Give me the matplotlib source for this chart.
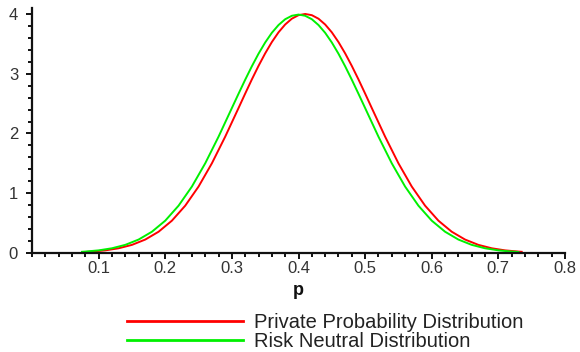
import matplotlib
matplotlib.use("Agg")
import matplotlib.pyplot as plt
from matplotlib.ticker import MultipleLocator

plt.rcParams['font.family'] = ['Liberation Sans', 'DejaVu Sans']

# Private probability distribution (red)
red_p = [0.08, 0.09, 0.11, 0.13, 0.15, 0.17, 0.19, 0.21, 0.23, 0.25, 0.27, 0.29,
         0.31, 0.32, 0.33, 0.34, 0.35, 0.36, 0.37, 0.38, 0.39, 0.40, 0.41, 0.42,
         0.43, 0.44, 0.45, 0.46, 0.47, 0.48, 0.49, 0.50, 0.51, 0.53,
         0.55, 0.57, 0.59, 0.61, 0.63, 0.65, 0.67, 0.69, 0.71, 0.73, 0.735]
red_density = [0.017, 0.024, 0.044, 0.079, 0.136, 0.225, 0.356, 0.541, 0.792, 1.112,
               1.501, 1.947, 2.426, 2.668, 2.905, 3.131, 3.341, 3.530, 3.693, 3.824,
               3.921, 3.980, 4.000, 3.980, 3.921, 3.824, 3.693, 3.530, 3.341, 3.131,
               2.905, 2.668, 2.426, 1.947, 1.501, 1.112, 0.792, 0.541, 0.356, 0.225,
               0.136, 0.079, 0.044, 0.024, 0.020]

# Risk neutral distribution (green)
green_p = [0.075, 0.08, 0.10, 0.12, 0.14, 0.16, 0.18, 0.20, 0.22, 0.24, 0.26, 0.28,
           0.30, 0.31, 0.32, 0.33, 0.34, 0.35, 0.36, 0.37, 0.38, 0.39, 0.40, 0.41,
           0.42, 0.43, 0.44, 0.45, 0.46, 0.47, 0.48, 0.49, 0.50, 0.52,
           0.54, 0.56, 0.58, 0.60, 0.62, 0.64, 0.66, 0.68, 0.70, 0.72, 0.73]
green_density = [0.020, 0.024, 0.044, 0.079, 0.136, 0.225, 0.356, 0.541, 0.792, 1.112,
                 1.501, 1.947, 2.426, 2.665, 2.900, 3.125, 3.335, 3.523, 3.685, 3.815,
                 3.912, 3.970, 3.990, 3.970, 3.912, 3.815, 3.685, 3.523, 3.335, 3.125,
                 2.900, 2.665, 2.426, 1.947, 1.501, 1.112, 0.792, 0.541, 0.356, 0.225,
                 0.136, 0.079, 0.044, 0.024, 0.017]

x_ticks = [0.1, 0.2, 0.3, 0.4, 0.5, 0.6, 0.7, 0.8]
x_labels = ["0.1", "0.2", "0.3", "0.4", "0.5", "0.6", "0.7", "0.8"]
y_ticks = [0, 1, 2, 3, 4]
y_labels = ["0", "1", "2", "3", "4"]
series_labels = ["Private Probability Distribution", "Risk Neutral Distribution"]

fig = plt.figure(figsize=(5.8, 3.52), dpi=100)
ax = fig.add_axes([32/580, 1 - 253/352, (565 - 32)/580, (253 - 8)/352])

l1, = ax.plot(red_p, red_density, color='#ff0000', lw=1.4, label=series_labels[0])
l2, = ax.plot(green_p, green_density, color='#00f000', lw=1.4, label=series_labels[1])

ax.set_xlim(0, 0.8)
ax.set_ylim(0, 4.1)
for s in ['top', 'right']:
    ax.spines[s].set_visible(False)
for s in ['left', 'bottom']:
    ax.spines[s].set_linewidth(1.6)
    ax.spines[s].set_color('#111111')

ax.set_xticks(x_ticks)
ax.set_xticklabels(x_labels)
ax.set_yticks(y_ticks)
ax.set_yticklabels(y_labels)
ax.xaxis.set_minor_locator(MultipleLocator(0.02))
ax.yaxis.set_minor_locator(MultipleLocator(0.2))
ax.tick_params(axis='both', which='major', direction='out', length=4, width=1.4,
               color='#111111', labelsize=12, labelcolor='#333333')
ax.tick_params(axis='both', which='minor', direction='out', length=3, width=1.4,
               color='#111111')
ax.tick_params(axis='x', which='major', pad=2)
ax.tick_params(axis='y', which='major', pad=6)

ax.set_xlabel("p", fontsize=13, fontweight='bold', color='#111111', labelpad=4)

leg = fig.legend([l1, l2], series_labels, loc='upper left',
                 bbox_to_anchor=(127/580, 1 - 313/352),
                 frameon=False, fontsize=14.5, handlelength=5.77, handletextpad=0.55,
                 labelspacing=0.0, borderaxespad=0, borderpad=0)
for ln in leg.get_lines():
    ln.set_linewidth(2)
for t in leg.get_texts():
    t.set_color('#222222')

fig.savefig("out.png", dpi=100)
